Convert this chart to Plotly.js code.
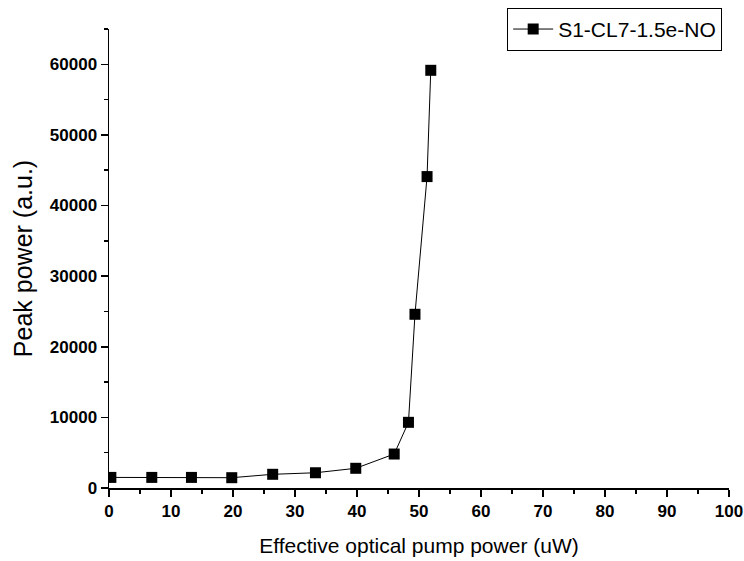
<!DOCTYPE html>
<html>
<head>
<meta charset="utf-8">
<script src="https://cdn.plot.ly/plotly-3.0.1.min.js"></script>
<style>html,body{margin:0;padding:0;background:#fff;}#chart{width:744px;height:561px;}</style>
</head>
<body>
<div id="chart"></div>
<script>
const seriesName = 'S1-CL7-1.5e-NO';
const pumpPower = [0.3, 6.9, 13.3, 19.8, 26.4, 33.3, 39.8, 46.0, 48.3, 49.35, 51.3, 51.9];
const peakPower = [1500, 1500, 1500, 1460, 1940, 2160, 2790, 4810, 9300, 24600, 44100, 59150];
const xTitle = 'Effective optical pump power (uW)';
const yTitle = 'Peak power (a.u.)';

const trace = {
  x: pumpPower, y: peakPower, name: seriesName,
  type: 'scatter', mode: 'lines+markers',
  line: {color: '#000', width: 1},
  marker: {symbol: 'square', size: 11, color: '#000'}
};
const fam = 'Liberation Sans, Arial, sans-serif';
const tickFont = {family: fam, size: 17, color: '#000', weight: 'bold'};
const layout = {
  width: 744, height: 561,
  margin: {l: 109, r: 15, t: 29, b: 73, autoexpand: false},
  paper_bgcolor: '#fff', plot_bgcolor: '#fff',
  showlegend: true,
  legend: {x: 0.989, xanchor: 'right', y: 1.046, yanchor: 'top', bordercolor: '#000', borderwidth: 1,
           font: {family: fam, size: 21, color: '#000'}, bgcolor: '#fff',
           tracegroupgap: 0, itemwidth: 40},
  xaxis: {range: [0, 100], dtick: 10, tick0: 0, showgrid: false, zeroline: false,
          showline: true, linecolor: '#000', linewidth: 1.5,
          ticks: 'outside', ticklen: 7, tickwidth: 1.5, tickcolor: '#000',
          minor: {dtick: 5, ticks: 'outside', ticklen: 4, tickwidth: 1.5, tickcolor: '#000', showgrid: false},
          tickfont: tickFont,
          title: {text: xTitle, font: {family: fam, size: 21, color: '#000'}, standoff: 18}},
  yaxis: {range: [0, 65000], dtick: 10000, tick0: 0, showgrid: false, zeroline: false,
          showline: true, linecolor: '#000', linewidth: 1.5,
          ticks: 'outside', ticklen: 7, tickwidth: 1.5, tickcolor: '#000',
          minor: {dtick: 5000, ticks: 'outside', ticklen: 4, tickwidth: 1.5, tickcolor: '#000', showgrid: false},
          tickfont: tickFont, tickformat: 'd',
          title: {text: yTitle, font: {family: fam, size: 25, color: '#000'}, standoff: 10}}
};
Plotly.newPlot('chart', [trace], layout, {displayModeBar: false, staticPlot: true});
</script>
</body>
</html>
